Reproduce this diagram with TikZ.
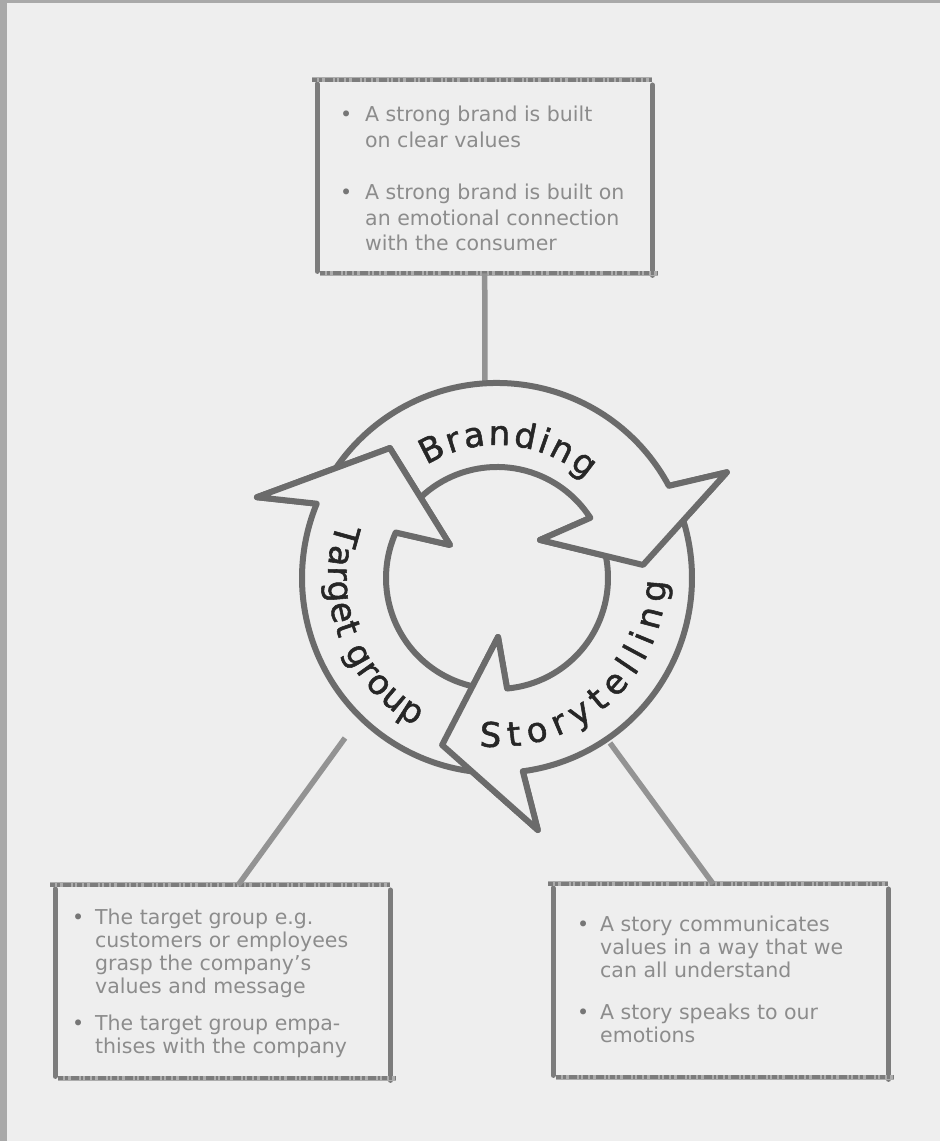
\documentclass[tikz,border=0pt]{standalone}
\usepackage{fontspec}
\setmainfont{DejaVu Sans}
\newfontfamily\ringfamily[FakeBold=1.6]{DejaVu Sans}
\usetikzlibrary{decorations.text}

\definecolor{paper}{HTML}{EEEEEE}
\definecolor{framegray}{HTML}{A9A9A9}
\definecolor{ringline}{HTML}{6B6B6B}
\definecolor{ringtext}{HTML}{262626}
\definecolor{edgegray}{HTML}{7C7C7C}
\definecolor{edgelight}{HTML}{ADADAD}
\definecolor{linkgray}{HTML}{939393}
\definecolor{bodytext}{HTML}{8C8C8C}
\definecolor{bulletgray}{HTML}{767676}

\newcommand\ringlabelfont{\ringfamily\fontsize{34}{34}\selectfont}
\newcommand\boxfont{\fontsize{20.5}{25.5}\selectfont}
\newcommand\bul[1]{\makebox[#1][l]{\color{bulletgray}\textbullet}}

\begin{document}
\begin{tikzpicture}[x=1pt,y=1pt,
  vedge/.style={line width=5pt, edgegray, line cap=round},
  hedgebase/.style={line width=5pt, edgelight},
  hedgegrain/.style={line width=4pt, edgegray,
    dash pattern=on 5pt off 2pt on 3pt off 3pt on 8pt off 2pt on 2pt off 2pt},
  conn/.style={line width=5.5pt, linkgray},
  arrowbody/.style={fill=paper, draw=ringline, line width=6pt, line join=round},
  headfill/.style={fill=paper},
  headline/.style={draw=ringline, line width=6pt, line join=round, line cap=round},
  boxarea/.style={rectangle, inner sep=0pt, minimum width=335pt,
    minimum height=193pt, anchor=north west},
  boxtext/.style={inner sep=0pt, anchor=base west, text=bodytext, font=\boxfont},
  ringlabel/.style={decorate, decoration={text along path,
    text align={fit to path}, text color=ringtext}}
]
% paper and frame
\fill[paper] (0,0) rectangle (940,1141);
\fill[framegray] (0,0) rectangle (7,1141);
\fill[framegray] (0,1138) rectangle (940,1141);
\useasboundingbox (0,0) rectangle (940,1141);

% text boxes
\node[boxarea] (tbox) at (317,1061) {};
\node[boxarea] (lbox) at (55,256) {};
\node[boxarea] (rbox) at (553,257) {};

\foreach \b in {tbox,lbox,rbox}{
  \draw[vedge] ([yshift=-4pt]\b.north west) -- ([yshift=2pt]\b.south west);
  \draw[vedge] ([yshift=-5pt]\b.north east) -- ([yshift=-2pt]\b.south east);
  \draw[hedgebase] ([xshift=-5pt]\b.north west) -- (\b.north east);
  \draw[hedgegrain] ([xshift=-5pt]\b.north west) -- (\b.north east);
  \draw[hedgebase] ([xshift=3pt]\b.south west) -- ([xshift=6pt]\b.south east);
  \draw[hedgegrain] ([xshift=3pt]\b.south west) -- ([xshift=6pt]\b.south east);
}

\node[boxtext] (ttext) at (340,1019) {\begin{tabular}[t]{@{}l@{}l@{}}
  \bul{25pt} & A strong brand is built\\
             & on clear values\\[27pt]
  \bul{25pt} & A strong brand is built on\\
             & an emotional connection\\
             & with the consumer
\end{tabular}};

\node[boxtext, font=\fontsize{20.5}{22.7}\selectfont] (ltext) at (72,216) {\begin{tabular}[t]{@{}l@{}l@{}}
  \bul{23pt} & The target group e.g.\\
             & customers or employees\\
             & grasp the company’s\\
             & values and message\\[15pt]
  \bul{23pt} & The target group empa-\\
             & thises with the company
\end{tabular}};

\node[boxtext, font=\fontsize{20.5}{23}\selectfont] (rtext) at (577,209) {\begin{tabular}[t]{@{}l@{}l@{}}
  \bul{23pt} & A story communicates\\
             & values in a way that we\\
             & can all understand\\[19pt]
  \bul{23pt} & A story speaks to our\\
             & emotions
\end{tabular}};

% connectors from the boxes to the cycle
\coordinate (ringtop) at (485,758);
\coordinate (ringleft) at (345,403);
\coordinate (ringright) at (610,398);
\draw[conn] (tbox.south) -- (ringtop);
\draw[conn] (ringleft) -- ([xshift=15.5pt]lbox.north);
\draw[conn] (ringright) -- ([xshift=-7.5pt]rbox.north);

% the cycle of three curved arrows
\begin{scope}[shift={(497,563)}]
  % Branding
  \path[arrowbody] (148:111) arc[start angle=148, end angle=32.8, radius=111]
    -- (41.5:57.4) -- (5.1:146.6) -- (24.7:253) -- (28.2:195)
    arc[start angle=28.2, end angle=148, radius=195] -- cycle;
  % Storytelling
  \path[arrowbody] (20:111) arc[start angle=20, end angle=-84.8, radius=111]
    -- (-89:59) -- (-108.2:175.8) -- (-80.8:255.3) -- (-82.4:195)
    arc[start angle=-82.4, end angle=20, radius=195] -- cycle;
  % Target group
  \path[arrowbody] (265:111) arc[start angle=265, end angle=155.8, radius=111]
    -- (144.9:57.4) -- (129.5:168.4) -- (161.4:253.3) -- (157.6:195)
    arc[start angle=157.6, end angle=265, radius=195] -- cycle;

  % arrow heads laid over the tails they point into
  \fill[headfill] (32.8:111) -- (41.5:57.4) -- (5.1:146.6) -- (24.7:253) -- (28.2:195) -- cycle;
  \path[headline] (32.8:111) -- (41.5:57.4) -- (5.1:146.6) -- (24.7:253) -- (28.2:195);
  \fill[headfill] (-84.8:111) -- (-89:59) -- (-108.2:175.8) -- (-80.8:255.3) -- (-82.4:195) -- cycle;
  \path[headline] (-84.8:111) -- (-89:59) -- (-108.2:175.8) -- (-80.8:255.3) -- (-82.4:195);
  \fill[headfill] (155.8:111) -- (144.9:57.4) -- (129.5:168.4) -- (161.4:253.3) -- (157.6:195) -- cycle;
  \path[headline] (155.8:111) -- (144.9:57.4) -- (129.5:168.4) -- (161.4:253.3) -- (157.6:195);

  % labels along the arrows
  \path[ringlabel, decoration={text={|\ringlabelfont|Branding}}]
    (122:133) arc[start angle=122, end angle=48, radius=133];
  \path[ringlabel, decoration={text={|\ringlabelfont|Target group}}]
    (161:169) arc[start angle=161, end angle=241, radius=169];
  \path[ringlabel, decoration={text={|\ringlabelfont|Storytelling}}]
    (-96:169) arc[start angle=-96, end angle=-1, radius=169];
\end{scope}
\end{tikzpicture}
\end{document}
